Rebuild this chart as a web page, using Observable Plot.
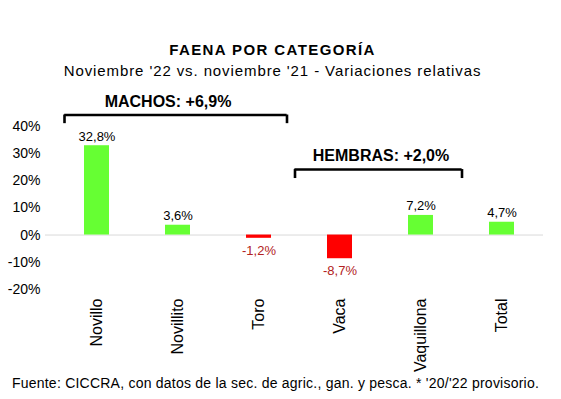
<!DOCTYPE html>
<html>
<head>
<meta charset="utf-8">
<script src="https://cdn.jsdelivr.net/npm/d3@7"></script>
<script src="https://cdn.jsdelivr.net/npm/@observablehq/plot@0.6"></script>
<style>
  html, body { margin: 0; padding: 0; background: #fff; }
  body { width: 561px; height: 399px; overflow: hidden; font-family: "Liberation Sans", Arial, sans-serif; color: #000; }
  #header { position: relative; width: 545px; height: 84px; }
  #title { position: absolute; left: 0; right: 0; top: 41px; text-align: center; font-size: 15px; font-weight: bold; letter-spacing: 1.4px; line-height: 18px; }
  #subtitle { position: absolute; left: 0; right: 0; top: 62px; text-align: center; font-size: 15px; letter-spacing: 0.9px; line-height: 18px; }
  #chart svg { display: block; }
  #caption { width: 551px; text-align: center; font-size: 14px; letter-spacing: 0.23px; line-height: 16px; }
</style>
</head>
<body>
<div id="header">
  <div id="title">FAENA POR CATEGORÍA</div>
  <div id="subtitle">Noviembre '22 vs. noviembre '21 - Variaciones relativas</div>
</div>
<div id="chart"></div>
<div id="caption">Fuente: CICCRA, con datos de la sec. de agric., gan. y pesca. * '20/'22 provisorio.</div>
<script>
const categories = ["Novillo", "Novillito", "Toro", "Vaca", "Vaquillona", "Total"];
const values = [32.8, 3.6, -1.2, -8.7, 7.2, 4.7];
const valueLabels = ["32,8%", "3,6%", "-1,2%", "-8,7%", "7,2%", "4,7%"];
const yTicks = [-20, -10, 0, 10, 20, 30, 40];
const groupLabels = ["MACHOS: +6,9%", "HEMBRAS: +2,0%"];
const groupFrom = ["Novillo", "Vaca"];
const groupTo = ["Toro", "Vaquillona"];

const data = categories.map((c, i) => ({cat: c, v: values[i], label: valueLabels[i]}));
const pos = data.filter(d => d.v >= 0);
const neg = data.filter(d => d.v < 0);

const machos = [{label: groupLabels[0], from: groupFrom[0], to: groupTo[0]}];
const hembras = [{label: groupLabels[1], from: groupFrom[1], to: groupTo[1]}];

const GREEN = "#66ff33", RED = "#ff0000";

function bracket(g, yTop, yEnd, yText, textX, textDx, insL, insR, dxL, dxR) {
  return [
    Plot.ruleY(g, {x1: "from", x2: "to", y: () => yTop, insetLeft: insL, insetRight: insR, stroke: "#000", strokeWidth: 2.6}),
    Plot.ruleX(g, {x: "from", y1: () => yTop, y2: () => yEnd, dx: dxL, stroke: "#000", strokeWidth: 2.6}),
    Plot.ruleX(g, {x: "to", y1: () => yTop, y2: () => yEnd, dx: dxR, stroke: "#000", strokeWidth: 2.6}),
    Plot.text(g, {x: textX, y: () => yText, dx: textDx, text: "label", fontSize: 16, fontWeight: "bold", letterSpacing: "1.2px", fill: "#000"})
  ];
}

const chart = Plot.plot({
  width: 561,
  height: 291,
  marginLeft: 55,
  marginRight: 17,
  marginTop: 28,
  marginBottom: 86,
  style: {fontFamily: "Liberation Sans, Arial, sans-serif", color: "#000", background: "#fff"},
  x: {domain: categories, paddingInner: 0.69, paddingOuter: 0.345, axis: null},
  y: {domain: [-20, 45], axis: null},
  marks: [
    Plot.ruleY([0], {stroke: "#d9d9d9", strokeWidth: 1, insetLeft: -10, insetRight: 1}),
    Plot.barY(data, {x: "cat", y: "v", fill: d => d.v >= 0 ? GREEN : RED}),
    Plot.text(pos, {x: "cat", y: "v", text: "label", lineAnchor: "bottom", dy: -5, fontSize: 13, fill: "#000"}),
    Plot.text(neg, {x: "cat", y: "v", text: "label", lineAnchor: "top", dy: 7, fontSize: 13, fill: "#b22222"}),
    Plot.axisY({ticks: yTicks, tickFormat: d => d + "%", tickSize: 0, tickPadding: 15, fontSize: 14, label: null}),
    Plot.axisX({tickRotate: -90, tickSize: 0, tickPadding: 9, fontSize: 16, label: null}),
    ...bracket(machos, 44.07, 40.9, 48.8, () => "Novillito", -10, -19.8, -15.6, -32.5, 28),
    ...bracket(hembras, 24.05, 20.75, 29.0, () => "Vaca", 41, -32.6, -28.6, -45, 41)
  ]
});
document.getElementById("chart").appendChild(chart);
</script>
</body>
</html>
